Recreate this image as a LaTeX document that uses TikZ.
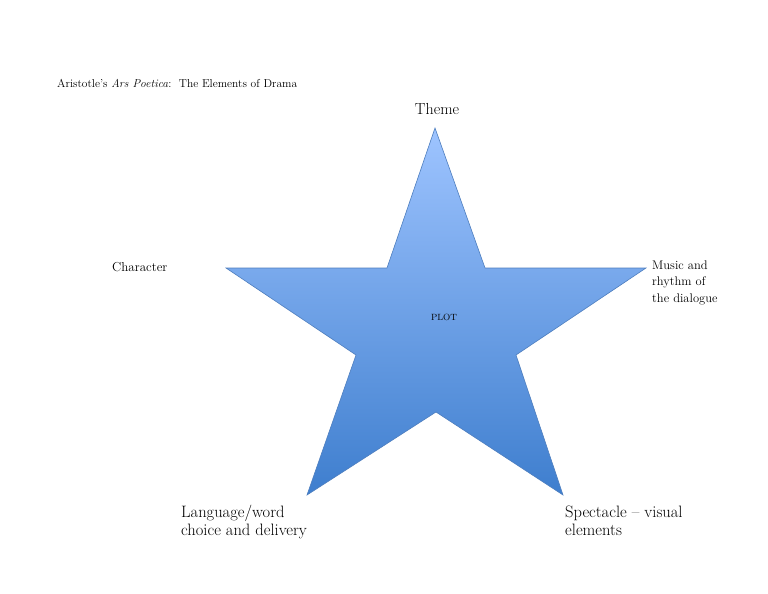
\documentclass[tikz,border=0pt]{standalone}
\usetikzlibrary{positioning}
\definecolor{starTop}{RGB}{158,196,255}
\definecolor{starBot}{RGB}{62,126,206}
\definecolor{starLine}{RGB}{78,126,190}

\begin{document}
\begin{tikzpicture}[x=1pt, y=-1pt,
  label/.style={inner sep=0pt, align=left, font=\fontsize{12.5}{16.5}\selectfont},
  biglabel/.style={inner sep=0pt, align=left, font=\fontsize{16.5}{18}\selectfont}]
  \useasboundingbox (0,0) rectangle (768,594);

  % Star points
  \coordinate (T) at (435,128);
  \coordinate (IL) at (387,268);
  \coordinate (IR) at (485,268);
  \coordinate (L) at (226,268);
  \coordinate (R) at (646,268);
  \coordinate (ISL) at (356,355);
  \coordinate (ISR) at (516,355);
  \coordinate (IB) at (436,412);
  \coordinate (BL) at (307,495);
  \coordinate (BR) at (563,495);

  % Star
  \shade[top color=starTop, bottom color=starBot, draw=starLine, line width=0.6pt]
    (T) -- (IR) -- (R) -- (ISR) -- (BR) -- (IB) -- (BL) -- (ISL) -- (L) -- (IL) -- cycle;
  \node[font=\fontsize{9}{11}\selectfont] (plot) at (444,317) {PLOT};

  % Title
  \node[anchor=base west, inner sep=0pt, font=\fontsize{11.5}{13}\selectfont] (title) at (57,87)
    {Aristotle’s \textit{Ars Poetica}:\ \ The Elements of Drama};

  % Elements (multi-line nodes sit on their last baseline)
  \node[anchor=base, inner sep=0pt, font=\fontsize{16}{18}\selectfont] (theme) at (437,114) {Theme};
  \node[label, anchor=base west, font=\fontsize{13}{16}\selectfont] (character) at (112,271) {Character};
  \node[label, anchor=base west] (music) at (652,302) {Music and\\rhythm of\\the dialogue};
  \node[biglabel, anchor=base west] (language) at (181,535) {Language/word\\choice and delivery};
  \node[biglabel, anchor=base west] (spectacle) at (565,535) {Spectacle – visual\\elements};
\end{tikzpicture}
\end{document}
